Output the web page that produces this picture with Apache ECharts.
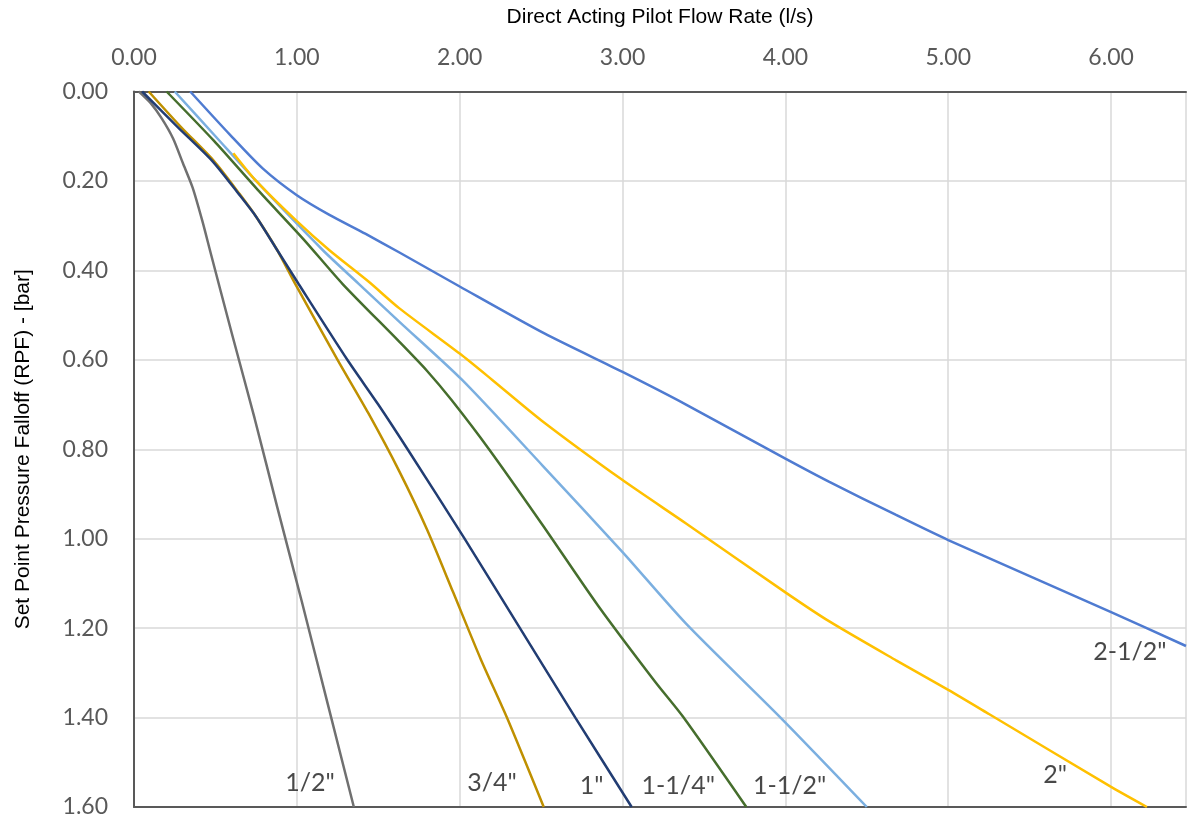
<!DOCTYPE html>
<html>
<head>
<meta charset="utf-8">
<title>Direct Acting Pilot Flow Rate</title>
<script src="https://cdn.jsdelivr.net/npm/echarts@6/dist/echarts.min.js"></script>
<style>
    html, body { margin: 0; padding: 0; background: #ffffff; }
    #chart { width: 1189px; height: 821px; }
</style>
</head>
<body>
<div id="chart"></div>
<script>
// ── Data: [flow rate (l/s), pressure falloff (bar)] ──
const sizeNames = ['1/2"', '3/4"', '1"', '1-1/4"', '1-1/2"', '2"', '2-1/2"'];

const curveHalf = [
    [0.03, 0], [0.10, 0.025], [0.17, 0.06], [0.24, 0.105], [0.30, 0.16], [0.36, 0.215],
    [0.42, 0.29], [0.47, 0.36], [0.60, 0.54], [0.74, 0.73], [0.88, 0.93], [1.03, 1.14],
    [1.19, 1.37], [1.35, 1.60]
];
const curveThreeQuarter = [
    [0.09, 0], [0.29, 0.08], [0.49, 0.155], [0.65, 0.23], [0.75, 0.28], [0.88, 0.355],
    [0.99, 0.43], [1.25, 0.60], [1.44, 0.72], [1.63, 0.85], [1.80, 0.98], [1.96, 1.12],
    [2.13, 1.27], [2.29, 1.40], [2.516, 1.60]
];
const curveOne = [
    [0.05, 0], [0.27, 0.08], [0.48, 0.155], [0.645, 0.23], [0.75, 0.28], [0.88, 0.355],
    [1.01, 0.43], [1.31, 0.60], [1.50, 0.70], [1.68, 0.80], [2.03, 1.0], [2.37, 1.20],
    [2.71, 1.40], [3.056, 1.60]
];
const curveOneQuarter = [
    [0.20, 0], [0.49, 0.11], [0.76, 0.22], [1.04, 0.33], [1.28, 0.43], [1.63, 0.56],
    [1.80, 0.625], [1.95, 0.69], [2.18, 0.80], [2.51, 0.97], [2.85, 1.15], [3.20, 1.32],
    [3.375, 1.40], [3.76, 1.60]
];
const curveOneHalf = [
    [0.25, 0], [0.50, 0.10], [0.76, 0.204], [1.16, 0.355], [1.38, 0.43], [1.63, 0.515],
    [2.015, 0.645], [2.51, 0.837], [3.0, 1.03], [3.39, 1.19], [3.97, 1.40], [4.50, 1.60]
];
const curveTwo = [
    [0.61, 0.138], [0.75, 0.20], [1.0, 0.29], [1.2, 0.355], [1.44, 0.425], [1.63, 0.485],
    [2.0, 0.586], [2.2, 0.645], [2.5, 0.735], [3.0, 0.869], [3.39, 0.966], [4.0, 1.12],
    [4.27, 1.185], [4.68, 1.272], [5.0, 1.338], [5.25, 1.392], [6.0, 1.555], [6.22, 1.60]
];
const curveTwoHalf = [
    [0.345, 0], [0.59, 0.097], [0.79, 0.172], [1.0, 0.232], [1.2, 0.276], [1.42, 0.318],
    [1.63, 0.36], [2.0, 0.436], [2.52, 0.541], [3.0, 0.627], [3.39, 0.70], [4.0, 0.821],
    [4.27, 0.873], [4.68, 0.947], [5.0, 1.003], [6.0, 1.164], [6.46, 1.24]
];
const curves = [curveHalf, curveThreeQuarter, curveOne, curveOneQuarter, curveOneHalf, curveTwo, curveTwoHalf];

// where each size label sits, in axis units
const labelX = [1.081, 2.199, 2.81, 3.342, 4.026, 5.657, 6.115];
const labelY = [1.547, 1.547, 1.554, 1.554, 1.554, 1.529, 1.254];

// ── Styles ──
const curveColors = ['#707070', '#bf9000', '#223d73', '#466e2d', '#7bafe0', '#ffc000', '#4f7bd1'];

const chart = echarts.init(document.getElementById('chart'), null, { renderer: 'canvas' });

const lineSeries = curves.map(function (pts, i) {
    return {
        name: sizeNames[i],
        type: 'line',
        data: pts,
        showSymbol: false,
        smooth: 0.25,
        lineStyle: { color: curveColors[i], width: 2.5 },
        itemStyle: { color: curveColors[i] },
        silent: true,
        z: 3 + i
    };
});

const labelSeries = {
    type: 'scatter',
    symbolSize: 0,
    silent: true,
    data: sizeNames.map(function (n, i) {
        return { name: n, value: [labelX[i], labelY[i]] };
    }),
    label: {
        show: true,
        position: 'inside',
        formatter: '{b}',
        fontFamily: 'Lato',
        fontSize: 25,
        color: '#1a1a1a'
    },
    z: 20
};

const option = {
    backgroundColor: '#ffffff',
    animation: false,
    grid: { left: 134, top: 91.5, right: -3, bottom: 14, containLabel: false },
    xAxis: [{
        type: 'value',
        position: 'top',
        min: 0,
        max: 6.46,
        interval: 1,
        name: 'Direct Acting Pilot Flow Rate (l/s)',
        nameLocation: 'middle',
        nameGap: 64,
        nameTextStyle: { fontFamily: 'Liberation Sans', fontSize: 21, color: '#000000' },
        axisLine: { show: true, lineStyle: { color: '#595959', width: 2 } },
        axisTick: { show: false },
        axisLabel: {
            margin: 22,
            fontFamily: 'Lato',
            fontSize: 23,
            color: '#595959',
            formatter: function (v) { return Number.isInteger(v) ? v.toFixed(2) : ''; }
        },
        splitLine: { show: true, lineStyle: { color: '#d9d9d9', width: 1.5 } }
    }, {
        // dark rule along the 1.60 bar line
        type: 'value',
        position: 'bottom',
        min: 0,
        max: 6.46,
        axisLine: { show: true, onZero: false, lineStyle: { color: '#595959', width: 2 } },
        axisTick: { show: false },
        axisLabel: { show: false },
        splitLine: { show: false }
    }],
    yAxis: {
        type: 'value',
        inverse: true,
        min: 0,
        max: 1.6,
        interval: 0.2,
        name: 'Set Point Pressure Falloff (RPF) - [bar]',
        nameLocation: 'middle',
        nameGap: 100,
        nameTextStyle: { fontFamily: 'Liberation Sans', fontSize: 21, color: '#000000' },
        axisLine: { show: true, lineStyle: { color: '#595959', width: 2 } },
        axisTick: { show: false },
        axisLabel: {
            margin: 26,
            fontFamily: 'Lato',
            fontSize: 23,
            color: '#595959',
            formatter: function (v) { return v.toFixed(2); }
        },
        splitLine: { show: true, lineStyle: { color: '#d9d9d9', width: 1.5 } }
    },
    series: lineSeries.concat([labelSeries])
};

chart.setOption(option);
</script>
</body>
</html>
